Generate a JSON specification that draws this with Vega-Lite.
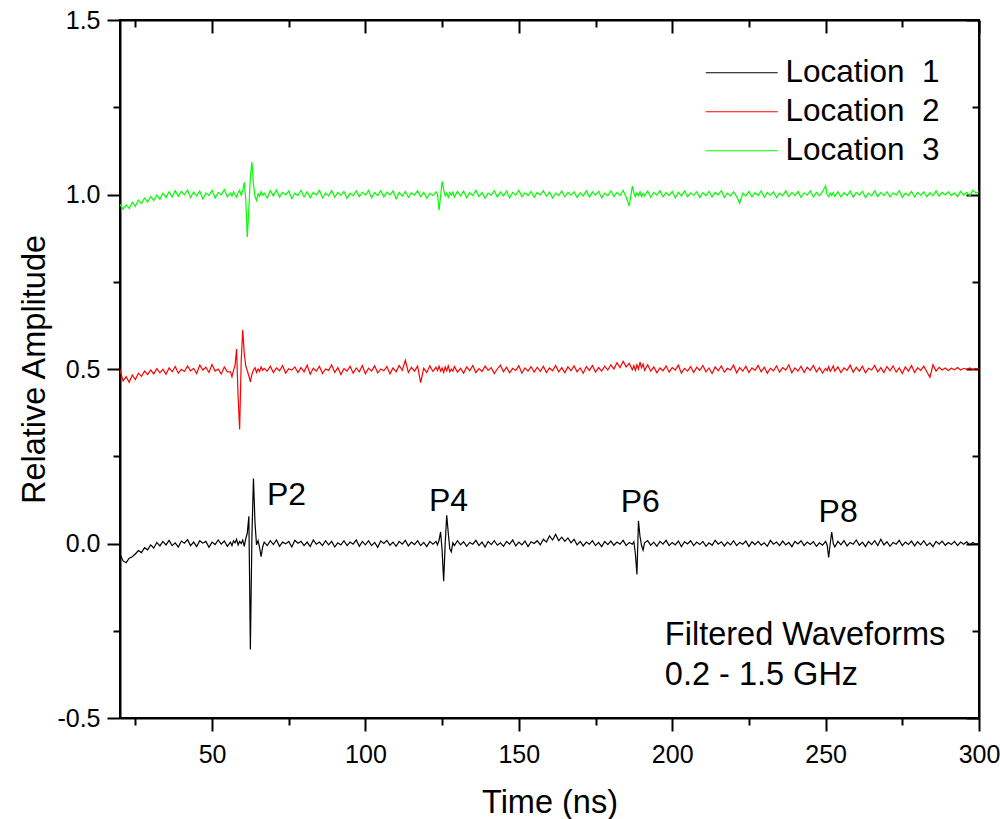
{
  "$schema": "https://vega.github.io/schema/vega-lite/v6.json",
  "width": 859,
  "height": 698,
  "autosize": {"type": "none"},
  "padding": {"left": 120, "top": 20, "right": 21, "bottom": 101},
  "background": "#ffffff",
  "datasets": {
    "wave": [
      {"t":20,"k":-0.030,"r":0.498,"g":0.972},{"t":21,"k":-0.050,"r":0.466,"g":0.958},{"t":22,"k":-0.055,"r":0.478,"g":0.970},{"t":23,"k":-0.042,"r":0.462,"g":0.960},{"t":24,"k":-0.038,"r":0.483,"g":0.978},{"t":25,"k":-0.030,"r":0.470,"g":0.966},{"t":26,"k":-0.020,"r":0.488,"g":0.984},{"t":27,"k":-0.026,"r":0.479,"g":0.974},{"t":28,"k":-0.012,"r":0.494,"g":0.990},{"t":29,"k":-0.018,"r":0.484,"g":0.978},
      {"t":30,"k":-0.004,"r":0.497,"g":0.994},{"t":31,"k":-0.013,"r":0.486,"g":0.983},{"t":32,"k":0.003,"r":0.501,"g":0.998},{"t":33,"k":-0.007,"r":0.489,"g":0.986},{"t":34,"k":0.006,"r":0.499,"g":1.004},{"t":35,"k":-0.004,"r":0.485,"g":0.991},{"t":36,"k":0.009,"r":0.503,"g":1.008},{"t":37,"k":-0.006,"r":0.492,"g":0.993},{"t":38,"k":0.002,"r":0.507,"g":1.011},{"t":39,"k":-0.010,"r":0.488,"g":0.995},
      {"t":40,"k":0.007,"r":0.499,"g":1.009},{"t":41,"k":0.001,"r":0.493,"g":0.999},{"t":42,"k":0.011,"r":0.509,"g":1.013},{"t":43,"k":-0.006,"r":0.495,"g":0.991},{"t":44,"k":0.004,"r":0.502,"g":1.007},{"t":45,"k":-0.009,"r":0.487,"g":0.996},{"t":46,"k":0.008,"r":0.511,"g":1.010},{"t":47,"k":0.001,"r":0.497,"g":0.987},{"t":48,"k":0.006,"r":0.505,"g":1.004},{"t":49,"k":-0.011,"r":0.490,"g":0.997},
      {"t":50,"k":0.004,"r":0.513,"g":1.012},{"t":51,"k":-0.003,"r":0.494,"g":0.990},{"t":52,"k":0.010,"r":0.500,"g":1.006},{"t":53,"k":-0.002,"r":0.486,"g":0.999},{"t":54,"k":0.007,"r":0.506,"g":1.014},{"t":55,"k":-0.008,"r":0.492,"g":0.993},
      {"t":56,"k":0.004,"r":0.492,"g":1.004},{"t":56.5,"k":-0.006,"r":0.478,"g":0.995},{"t":57,"k":0.008,"r":0.496,"g":1.008},{"t":57.5,"k":0.002,"r":0.510,"g":1.000},{"t":58,"k":0.012,"r":0.557,"g":0.992},{"t":58.5,"k":-0.004,"r":0.420,"g":1.006},{"t":59,"k":0.006,"r":0.327,"g":1.012},{"t":59.5,"k":0.000,"r":0.520,"g":0.998},{"t":60,"k":0.010,"r":0.612,"g":1.010},{"t":60.5,"k":-0.008,"r":0.545,"g":1.035},
      {"t":61,"k":0.014,"r":0.508,"g":0.985},{"t":61.5,"k":0.030,"r":0.495,"g":0.878},{"t":62,"k":0.078,"r":0.480,"g":0.960},{"t":62.5,"k":-0.304,"r":0.463,"g":1.050},{"t":63,"k":0.020,"r":0.485,"g":1.093},{"t":63.5,"k":0.186,"r":0.497,"g":1.030},{"t":64,"k":0.060,"r":0.504,"g":0.995},{"t":64.5,"k":-0.004,"r":0.490,"g":0.983},{"t":65,"k":0.008,"r":0.500,"g":1.002},{"t":65.5,"k":-0.012,"r":0.493,"g":0.995},
      {"t":66,"k":-0.038,"r":0.506,"g":1.008},{"t":66.5,"k":-0.010,"r":0.496,"g":0.998},{"t":67,"k":0.004,"r":0.502,"g":1.004},{"t":68,"k":-0.006,"r":0.494,"g":0.990},{"t":69,"k":0.008,"r":0.508,"g":1.011},
      {"t":70,"k":-0.003,"r":0.490,"g":0.996},{"t":71,"k":0.010,"r":0.503,"g":1.013},{"t":72,"k":-0.008,"r":0.495,"g":0.992},{"t":73,"k":0.004,"r":0.510,"g":1.006},{"t":74,"k":-0.001,"r":0.488,"g":0.999},{"t":75,"k":0.006,"r":0.501,"g":1.010},{"t":76,"k":-0.010,"r":0.497,"g":0.988},{"t":77,"k":0.009,"r":0.506,"g":1.004},{"t":78,"k":0.001,"r":0.490,"g":0.997},{"t":79,"k":0.006,"r":0.504,"g":1.012},
      {"t":80,"k":-0.006,"r":0.492,"g":0.993},{"t":81,"k":0.004,"r":0.511,"g":1.008},{"t":82,"k":-0.009,"r":0.485,"g":0.991},{"t":83,"k":0.010,"r":0.502,"g":1.006},{"t":84,"k":-0.002,"r":0.494,"g":0.999},{"t":85,"k":0.004,"r":0.508,"g":1.012},{"t":86,"k":-0.006,"r":0.487,"g":0.990},{"t":87,"k":0.008,"r":0.500,"g":1.004},{"t":88,"k":-0.004,"r":0.496,"g":0.996},{"t":89,"k":0.006,"r":0.512,"g":1.011},
      {"t":90,"k":-0.010,"r":0.490,"g":0.992},{"t":91,"k":0.002,"r":0.504,"g":1.006},{"t":92,"k":-0.004,"r":0.484,"g":0.998},{"t":93,"k":0.008,"r":0.501,"g":1.009},{"t":94,"k":-0.006,"r":0.494,"g":0.989},{"t":95,"k":0.004,"r":0.508,"g":1.004},{"t":96,"k":-0.002,"r":0.488,"g":0.996},{"t":97,"k":0.010,"r":0.503,"g":1.010},{"t":98,"k":-0.008,"r":0.492,"g":0.994},{"t":99,"k":0.006,"r":0.510,"g":1.006},
      {"t":100,"k":-0.004,"r":0.486,"g":0.998},{"t":101,"k":0.008,"r":0.502,"g":1.012},{"t":102,"k":-0.006,"r":0.494,"g":0.990},{"t":103,"k":0.003,"r":0.509,"g":1.005},{"t":104,"k":-0.011,"r":0.489,"g":0.997},{"t":105,"k":0.007,"r":0.500,"g":1.011},{"t":106,"k":0.000,"r":0.495,"g":0.993},{"t":107,"k":0.009,"r":0.507,"g":1.007},{"t":108,"k":-0.005,"r":0.486,"g":0.999},{"t":109,"k":0.004,"r":0.503,"g":1.010},
      {"t":110,"k":-0.008,"r":0.492,"g":0.988},{"t":111,"k":0.006,"r":0.510,"g":1.006},{"t":112,"k":-0.002,"r":0.496,"g":0.995},{"t":113,"k":0.009,"r":0.525,"g":1.009},{"t":114,"k":-0.007,"r":0.490,"g":0.992},{"t":115,"k":0.004,"r":0.505,"g":1.005},{"t":116,"k":-0.003,"r":0.494,"g":0.998},{"t":117,"k":0.008,"r":0.508,"g":1.011},{"t":118,"k":-0.006,"r":0.461,"g":0.994},{"t":119,"k":0.003,"r":0.502,"g":1.006},
      {"t":120,"k":-0.009,"r":0.490,"g":0.989},{"t":121,"k":0.006,"r":0.509,"g":1.004},{"t":122,"k":-0.002,"r":0.493,"g":0.997},{"t":123,"k":0.006,"r":0.505,"g":1.008},{"t":123.5,"k":-0.004,"r":0.496,"g":1.001},{"t":124,"k":0.010,"r":0.508,"g":0.955},{"t":124.5,"k":0.033,"r":0.494,"g":0.995},{"t":125,"k":-0.020,"r":0.503,"g":1.038},{"t":125.5,"k":-0.108,"r":0.490,"g":1.015},{"t":126,"k":0.000,"r":0.506,"g":0.996},
      {"t":126.5,"k":0.081,"r":0.495,"g":1.004},{"t":127,"k":0.030,"r":0.509,"g":0.992},{"t":127.5,"k":-0.015,"r":0.492,"g":1.006},{"t":128,"k":-0.024,"r":0.500,"g":0.998},{"t":128.5,"k":0.002,"r":0.494,"g":1.007},{"t":129,"k":-0.006,"r":0.507,"g":0.993},
      {"t":130,"k":0.008,"r":0.491,"g":1.009},{"t":131,"k":-0.004,"r":0.502,"g":0.996},{"t":132,"k":0.005,"r":0.488,"g":1.010},{"t":133,"k":-0.008,"r":0.506,"g":0.991},{"t":134,"k":0.003,"r":0.495,"g":1.005},{"t":135,"k":-0.002,"r":0.510,"g":0.997},{"t":136,"k":0.009,"r":0.490,"g":1.012},{"t":137,"k":-0.006,"r":0.501,"g":0.994},{"t":138,"k":0.004,"r":0.493,"g":1.006},{"t":139,"k":-0.010,"r":0.508,"g":0.989},
      {"t":140,"k":0.006,"r":0.496,"g":1.004},{"t":141,"k":-0.003,"r":0.504,"g":0.998},{"t":142,"k":0.008,"r":0.487,"g":1.011},{"t":143,"k":-0.005,"r":0.500,"g":0.993},{"t":144,"k":0.002,"r":0.511,"g":1.007},{"t":145,"k":-0.008,"r":0.492,"g":0.996},{"t":146,"k":0.006,"r":0.505,"g":1.010},{"t":147,"k":-0.002,"r":0.489,"g":0.990},{"t":148,"k":0.010,"r":0.502,"g":1.006},{"t":149,"k":-0.007,"r":0.496,"g":0.998},
      {"t":150,"k":0.004,"r":0.509,"g":1.012},{"t":151,"k":-0.004,"r":0.488,"g":0.994},{"t":152,"k":0.007,"r":0.503,"g":1.005},{"t":153,"k":-0.009,"r":0.494,"g":0.997},{"t":154,"k":0.005,"r":0.507,"g":1.009},{"t":155,"k":0.000,"r":0.491,"g":0.992},{"t":156,"k":0.008,"r":0.505,"g":1.006},{"t":157,"k":-0.004,"r":0.493,"g":0.999},{"t":158,"k":0.012,"r":0.508,"g":1.011},{"t":159,"k":0.004,"r":0.490,"g":0.995},
      {"t":160,"k":0.022,"r":0.503,"g":1.007},{"t":161,"k":0.010,"r":0.495,"g":0.990},{"t":162,"k":0.026,"r":0.510,"g":1.004},{"t":163,"k":0.008,"r":0.492,"g":0.997},{"t":164,"k":0.018,"r":0.504,"g":1.010},{"t":165,"k":0.006,"r":0.489,"g":0.993},{"t":166,"k":0.016,"r":0.506,"g":1.006},{"t":167,"k":0.002,"r":0.495,"g":0.998},{"t":168,"k":0.012,"r":0.509,"g":1.008},{"t":169,"k":-0.004,"r":0.492,"g":0.991},
      {"t":170,"k":0.006,"r":0.503,"g":1.005},{"t":171,"k":-0.007,"r":0.488,"g":0.996},{"t":172,"k":0.004,"r":0.507,"g":1.011},{"t":173,"k":-0.002,"r":0.496,"g":0.993},{"t":174,"k":0.008,"r":0.510,"g":1.007},{"t":175,"k":-0.006,"r":0.491,"g":0.998},{"t":176,"k":0.003,"r":0.504,"g":1.009},{"t":177,"k":-0.009,"r":0.494,"g":0.990},{"t":178,"k":0.006,"r":0.508,"g":1.004},{"t":179,"k":-0.003,"r":0.497,"g":0.996},
      {"t":180,"k":0.007,"r":0.512,"g":1.010},{"t":181,"k":-0.005,"r":0.500,"g":0.994},{"t":182,"k":0.004,"r":0.518,"g":1.006},{"t":183,"k":-0.002,"r":0.504,"g":0.997},{"t":184,"k":0.009,"r":0.522,"g":1.012},{"t":185,"k":-0.006,"r":0.506,"g":0.992},{"t":186,"k":0.003,"r":0.516,"g":0.967},{"t":187,"k":-0.002,"r":0.498,"g":1.024},{"t":187.5,"k":0.005,"r":0.510,"g":1.004},{"t":188,"k":-0.030,"r":0.496,"g":0.994},
      {"t":188.5,"k":-0.089,"r":0.512,"g":1.005},{"t":189,"k":0.065,"r":0.500,"g":0.997},{"t":189.5,"k":0.020,"r":0.520,"g":1.008},{"t":190,"k":-0.005,"r":0.504,"g":0.994},{"t":190.5,"k":-0.019,"r":0.514,"g":1.003},{"t":191,"k":0.002,"r":0.496,"g":0.996},{"t":192,"k":0.008,"r":0.512,"g":1.010},{"t":193,"k":-0.005,"r":0.494,"g":0.992},{"t":194,"k":0.004,"r":0.506,"g":1.006},{"t":195,"k":-0.008,"r":0.489,"g":0.998},
      {"t":196,"k":0.006,"r":0.503,"g":1.011},{"t":197,"k":-0.002,"r":0.495,"g":0.993},{"t":198,"k":0.009,"r":0.509,"g":1.005},{"t":199,"k":-0.006,"r":0.491,"g":0.997},{"t":200,"k":0.003,"r":0.504,"g":1.009},{"t":201,"k":-0.004,"r":0.497,"g":0.990},{"t":202,"k":0.007,"r":0.511,"g":1.006},{"t":203,"k":-0.009,"r":0.488,"g":0.996},{"t":204,"k":0.005,"r":0.502,"g":1.010},{"t":205,"k":-0.001,"r":0.494,"g":0.994},
      {"t":206,"k":0.008,"r":0.507,"g":1.004},{"t":207,"k":-0.006,"r":0.490,"g":0.998},{"t":208,"k":0.004,"r":0.505,"g":1.008},{"t":209,"k":-0.003,"r":0.496,"g":0.991},{"t":210,"k":0.006,"r":0.510,"g":1.005},{"t":211,"k":-0.008,"r":0.492,"g":0.997},{"t":212,"k":0.002,"r":0.503,"g":1.009},{"t":213,"k":-0.005,"r":0.487,"g":0.993},{"t":214,"k":0.009,"r":0.506,"g":1.006},{"t":215,"k":-0.002,"r":0.495,"g":0.999},
      {"t":216,"k":0.005,"r":0.509,"g":1.011},{"t":217,"k":-0.007,"r":0.491,"g":0.992},{"t":218,"k":0.004,"r":0.502,"g":1.004},{"t":219,"k":-0.004,"r":0.497,"g":0.996},{"t":220,"k":0.008,"r":0.511,"g":1.008},{"t":221,"k":-0.006,"r":0.489,"g":0.994},{"t":222,"k":0.003,"r":0.504,"g":0.975},{"t":223,"k":-0.002,"r":0.494,"g":1.004},{"t":224,"k":0.007,"r":0.508,"g":0.996},{"t":225,"k":-0.009,"r":0.490,"g":1.009},
      {"t":226,"k":0.005,"r":0.503,"g":0.993},{"t":227,"k":-0.003,"r":0.496,"g":1.005},{"t":228,"k":0.006,"r":0.510,"g":0.997},{"t":229,"k":-0.005,"r":0.492,"g":1.010},{"t":230,"k":0.002,"r":0.505,"g":0.992},{"t":231,"k":-0.008,"r":0.488,"g":1.006},{"t":232,"k":0.009,"r":0.502,"g":0.998},{"t":233,"k":-0.002,"r":0.495,"g":1.008},{"t":234,"k":0.004,"r":0.509,"g":0.991},{"t":235,"k":-0.006,"r":0.491,"g":1.004},
      {"t":236,"k":0.007,"r":0.504,"g":0.996},{"t":237,"k":-0.004,"r":0.497,"g":1.011},{"t":238,"k":0.003,"r":0.512,"g":0.994},{"t":239,"k":-0.009,"r":0.489,"g":1.006},{"t":240,"k":0.006,"r":0.503,"g":0.997},{"t":241,"k":-0.001,"r":0.494,"g":1.009},{"t":242,"k":0.008,"r":0.508,"g":0.992},{"t":243,"k":-0.006,"r":0.490,"g":1.005},{"t":244,"k":0.004,"r":0.505,"g":0.998},{"t":245,"k":-0.003,"r":0.496,"g":1.010},
      {"t":246,"k":0.005,"r":0.510,"g":0.993},{"t":247,"k":-0.008,"r":0.492,"g":1.006},{"t":248,"k":0.002,"r":0.504,"g":0.996},{"t":249,"k":-0.005,"r":0.488,"g":1.008},{"t":250,"k":0.006,"r":0.502,"g":1.025},{"t":250.5,"k":-0.004,"r":0.495,"g":1.000},{"t":251,"k":-0.040,"r":0.507,"g":0.994},{"t":251.5,"k":0.000,"r":0.493,"g":1.004},{"t":252,"k":0.033,"r":0.500,"g":0.997},{"t":252.5,"k":0.000,"r":0.509,"g":1.006},
      {"t":253,"k":-0.010,"r":0.494,"g":0.995},{"t":254,"k":0.006,"r":0.506,"g":1.008},{"t":255,"k":-0.004,"r":0.490,"g":0.993},{"t":256,"k":0.008,"r":0.503,"g":1.005},{"t":257,"k":-0.007,"r":0.496,"g":0.997},{"t":258,"k":0.003,"r":0.511,"g":1.010},{"t":259,"k":-0.002,"r":0.491,"g":0.992},{"t":260,"k":0.010,"r":0.505,"g":1.006},{"t":261,"k":-0.005,"r":0.494,"g":0.998},{"t":262,"k":0.004,"r":0.508,"g":1.009},
      {"t":263,"k":-0.009,"r":0.489,"g":0.991},{"t":264,"k":0.006,"r":0.502,"g":1.004},{"t":265,"k":-0.003,"r":0.497,"g":0.996},{"t":266,"k":0.008,"r":0.510,"g":1.010},{"t":267,"k":-0.006,"r":0.492,"g":0.994},{"t":268,"k":0.012,"r":0.504,"g":1.006},{"t":269,"k":-0.004,"r":0.490,"g":0.997},{"t":270,"k":0.005,"r":0.507,"g":1.008},{"t":271,"k":-0.008,"r":0.495,"g":0.993},{"t":272,"k":0.003,"r":0.509,"g":1.005},
      {"t":273,"k":-0.002,"r":0.491,"g":0.998},{"t":274,"k":0.009,"r":0.503,"g":1.011},{"t":275,"k":-0.006,"r":0.487,"g":0.992},{"t":276,"k":0.004,"r":0.506,"g":1.004},{"t":277,"k":-0.003,"r":0.494,"g":0.997},{"t":278,"k":0.007,"r":0.510,"g":1.009},{"t":279,"k":-0.007,"r":0.490,"g":0.993},{"t":280,"k":0.005,"r":0.504,"g":1.006},{"t":281,"k":-0.004,"r":0.496,"g":0.998},{"t":282,"k":0.008,"r":0.508,"g":1.008},
      {"t":283,"k":-0.006,"r":0.492,"g":0.994},{"t":284,"k":0.002,"r":0.476,"g":1.005},{"t":285,"k":-0.009,"r":0.512,"g":0.996},{"t":286,"k":0.006,"r":0.494,"g":1.010},{"t":287,"k":-0.002,"r":0.505,"g":0.995},{"t":288,"k":0.007,"r":0.497,"g":1.006},{"t":289,"k":-0.005,"r":0.503,"g":0.999},{"t":290,"k":0.003,"r":0.496,"g":1.008},{"t":291,"k":-0.003,"r":0.502,"g":0.997},{"t":292,"k":0.006,"r":0.498,"g":1.005},
      {"t":293,"k":-0.006,"r":0.504,"g":0.994},{"t":294,"k":0.004,"r":0.497,"g":1.009},{"t":295,"k":-0.002,"r":0.502,"g":0.998},{"t":296,"k":0.005,"r":0.499,"g":1.006},{"t":297,"k":-0.004,"r":0.503,"g":0.996},{"t":298,"k":0.003,"r":0.498,"g":1.012},{"t":299,"k":-0.002,"r":0.502,"g":1.004},{"t":300,"k":0.001,"r":0.500,"g":1.008}
    ],
    "peaks": [
      {"t":74.3,"a":0.140,"label":"P2"},
      {"t":127.1,"a":0.123,"label":"P4"},
      {"t":189.6,"a":0.118,"label":"P6"},
      {"t":254.1,"a":0.089,"label":"P8"}
    ],
    "notes": [
      {"t":197.6,"a":-0.263,"label":"Filtered Waveforms"},
      {"t":197.6,"a":-0.377,"label":"0.2 - 1.5 GHz"}
    ]
  },
  "layer": [
    {
      "data": {"name": "wave"},
      "transform": [{"fold": ["k", "r", "g"], "as": ["loc", "amp"]}],
      "mark": {"type": "line", "strokeWidth": 1.2, "clip": true},
      "encoding": {
        "x": {
          "field": "t", "type": "quantitative",
          "scale": {"domain": [20, 300], "nice": false, "zero": false},
          "axis": {
            "orient": "bottom", "title": "Time (ns)",
            "values": [25,50,75,100,125,150,175,200,225,250,275,300],
            "labelExpr": "datum.value % 50 === 0 ? datum.label : ''",
            "tickSize": {"condition": {"test": "datum.value % 50 === 0", "value": 13}, "value": 7},
            "labelPadding": 11, "titlePadding": 19, "labelFlush": false, "labelOverlap": false
          }
        },
        "y": {
          "field": "amp", "type": "quantitative",
          "scale": {"domain": [-0.5, 1.5], "nice": false, "zero": false},
          "axis": {
            "orient": "left", "title": "Relative Amplitude",
            "values": [-0.5,-0.25,0,0.25,0.5,0.75,1,1.25,1.5],
            "labelExpr": "datum.value % 0.5 === 0 ? replace(format(datum.value, '.1f'), '\u2212', '-') : ''",
            "tickSize": {"condition": {"test": "datum.value % 0.5 === 0", "value": 13}, "value": 7},
            "labelPadding": 7, "titlePadding": 5, "labelFlush": false, "labelOverlap": false
          }
        },
        "color": {
          "field": "loc", "type": "nominal",
          "scale": {"domain": ["k", "r", "g"], "range": ["#000000", "#ff0000", "#00ff00"]},
          "legend": {
            "title": null, "orient": "none", "legendX": 582, "legendY": 37,
            "symbolType": "M-1,0H5", "symbolSize": 576, "symbolStrokeWidth": 1.2,
            "labelFontSize": 31.5, "labelOffset": 52, "rowPadding": 6, "padding": 0,
            "labelColor": "#000000",
            "labelExpr": "'Location\u00a0 ' + (datum.label === 'k' ? '1' : datum.label === 'r' ? '2' : '3')"
          }
        }
      }
    },
    {
      "data": {"name": "peaks"},
      "mark": {"type": "text", "fontSize": 32, "align": "center", "baseline": "middle", "color": "#000000"},
      "encoding": {
        "x": {
          "field": "t", "type": "quantitative",
          "scale": {"domain": [20, 300], "nice": false, "zero": false},
          "axis": {
            "orient": "top", "title": null, "labels": false,
            "values": [25,50,75,100,125,150,175,200,225,250,275,300],
            "tickSize": {"condition": {"test": "datum.value % 50 === 0", "value": -13}, "value": -7}
          }
        },
        "y": {
          "field": "a", "type": "quantitative",
          "scale": {"domain": [-0.5, 1.5], "nice": false, "zero": false},
          "axis": {
            "orient": "right", "title": null, "labels": false,
            "values": [-0.5,-0.25,0,0.25,0.5,0.75,1,1.25,1.5],
            "tickSize": {"condition": {"test": "datum.value % 0.5 === 0", "value": -13}, "value": -7}
          }
        },
        "text": {"field": "label"}
      }
    },
    {
      "data": {"name": "notes"},
      "mark": {"type": "text", "fontSize": 32.5, "align": "left", "baseline": "middle", "color": "#000000"},
      "encoding": {
        "x": {"field": "t", "type": "quantitative", "scale": {"domain": [20, 300], "nice": false, "zero": false}, "axis": null},
        "y": {"field": "a", "type": "quantitative", "scale": {"domain": [-0.5, 1.5], "nice": false, "zero": false}, "axis": null},
        "text": {"field": "label"}
      }
    }
  ],
  "resolve": {"axis": {"x": "independent", "y": "independent"}},
  "config": {
    "font": "Liberation Sans",
    "view": {"stroke": "#000000", "strokeWidth": 2},
    "axis": {
      "grid": false, "domainColor": "#000000", "domainWidth": 2,
      "tickColor": "#000000", "tickWidth": 2,
      "labelFontSize": 25, "labelColor": "#000000",
      "titleFontSize": 32.5, "titleFontWeight": "normal", "titleColor": "#000000"
    }
  }
}
